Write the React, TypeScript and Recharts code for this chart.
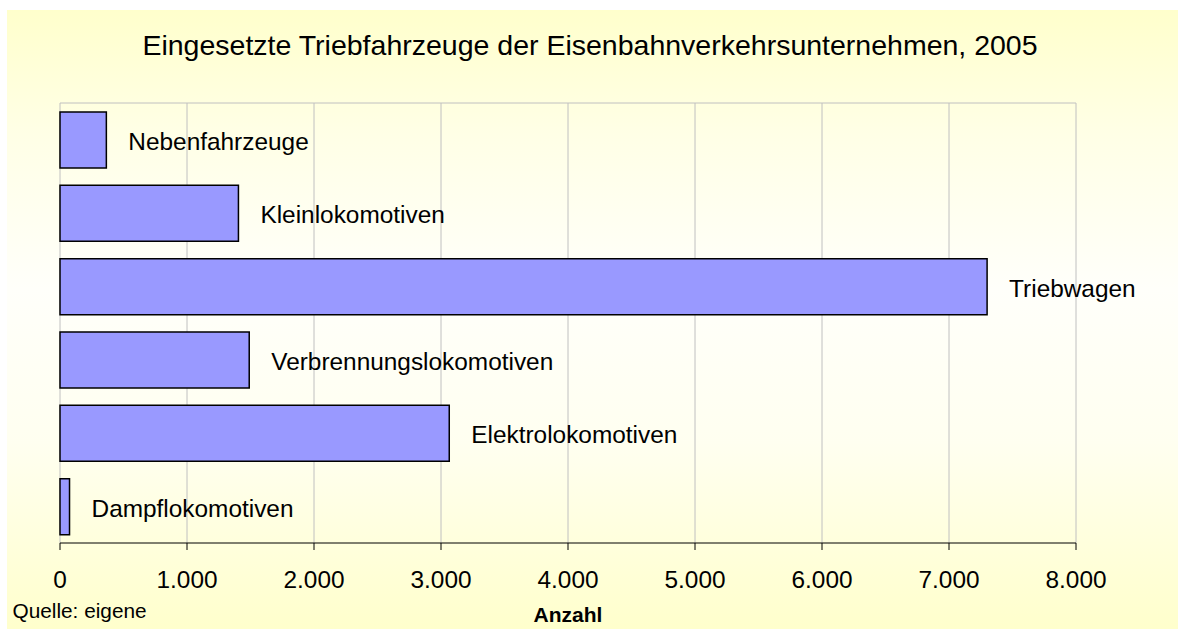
import React from "react";
import { BarChart, Bar, XAxis, YAxis, CartesianGrid, LabelList } from "recharts";

const categories = [
  "Nebenfahrzeuge",
  "Kleinlokomotiven",
  "Triebwagen",
  "Verbrennungslokomotiven",
  "Elektrolokomotiven",
  "Dampflokomotiven",
];
const values = [365, 1405, 7300, 1490, 3065, 75];
const xTicks = [0, 1000, 2000, 3000, 4000, 5000, 6000, 7000, 8000];

const title = "Eingesetzte Triebfahrzeuge der Eisenbahnverkehrsunternehmen, 2005";
const sourceNote = "Quelle: eigene";
const xAxisTitle = "Anzahl";

const data = categories.map((name, i) => ({ name, value: values[i] }));

const FONT = "'Liberation Sans', Arial, sans-serif";

const fmt = (v: number) => String(v).replace(/\B(?=(\d{3})+(?!\d))/g, ".");

const W = 1171;
const H = 619;

const BarLabel = (props: any) => {
  const { x, y, width, height, value } = props;
  return (
    <text
      x={Number(x) + Number(width) + 22}
      y={Number(y) + Number(height) / 2 + 10}
      fontSize={24.4}
      fontFamily={FONT}
      fill="#000"
      textAnchor="start"
    >
      {value}
    </text>
  );
};

export default function App() {
  return (
    <div
      style={{
        position: "absolute",
        left: 7,
        top: 10,
        width: W,
        height: H,
        background:
          "linear-gradient(to bottom, #FFFFCC 0%, #FFFFE6 20%, #FFFFFA 45%, #FFFFF0 70%, #FFFFCC 100%)",
      }}
    >
      <BarChart
        width={W}
        height={H}
        data={data}
        layout="vertical"
        margin={{ top: 93, right: 102, bottom: 36, left: 53 }}
      >
        <CartesianGrid
          stroke="#C0C0C0"
          strokeWidth={1}
          vertical={true}
          horizontal={true}
          horizontalCoordinatesGenerator={(p: any) => [p.offset.top]}
        />
        <XAxis
          type="number"
          domain={[0, 8000]}
          ticks={xTicks}
          tickFormatter={fmt}
          height={50}
          tickSize={7}
          tickMargin={21}
          axisLine={{ stroke: "#000", strokeWidth: 1 }}
          tickLine={{ stroke: "#000", strokeWidth: 1 }}
          tick={{ fill: "#000", fontSize: 24.4, fontFamily: FONT }}
          interval={0}
        />
        <YAxis type="category" dataKey="name" hide width={0} />
        <Bar
          dataKey="value"
          fill="#9999FF"
          stroke="#000"
          strokeWidth={1.5}
          barSize={56}
          isAnimationActive={false}
        >
          <LabelList dataKey="name" content={BarLabel} />
        </Bar>
      </BarChart>
      <svg
        width={W}
        height={H}
        style={{ position: "absolute", left: 0, top: 0, pointerEvents: "none" }}
      >
        <text x={583} y={44.5} fontSize={28.5} fontFamily={FONT} textAnchor="middle" fill="#000">
          {title}
        </text>
        <text x={5.5} y={608} fontSize={20.8} fontFamily={FONT} textAnchor="start" fill="#000">
          {sourceNote}
        </text>
        <text
          x={561}
          y={612}
          fontSize={21}
          fontWeight="bold"
          fontFamily={FONT}
          textAnchor="middle"
          fill="#000"
        >
          {xAxisTitle}
        </text>
      </svg>
    </div>
  );
}
